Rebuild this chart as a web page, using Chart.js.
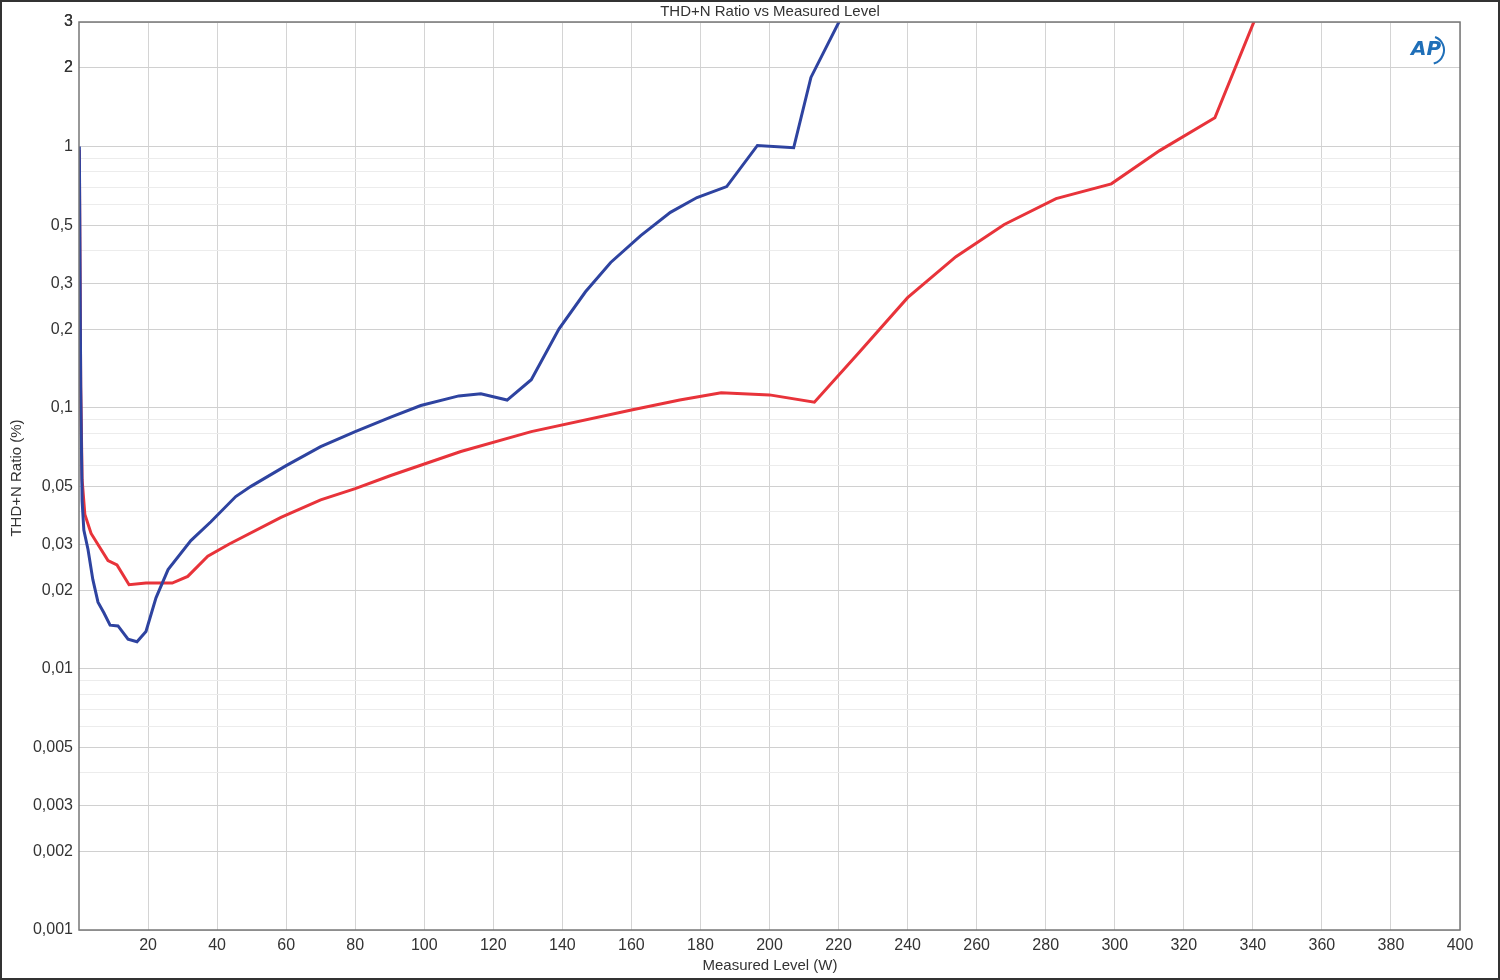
<!DOCTYPE html>
<html><head><meta charset="utf-8">
<script src="https://cdn.jsdelivr.net/npm/chart.js@4"></script>
<style>html,body{margin:0;padding:0;background:#fff}#w{width:1500px;height:980px;position:relative;box-sizing:border-box;border:2px solid #333}</style>
</head><body><div id="w"><canvas id="c"></canvas></div>
<script>
const blueX=[0.1,0.5,0.9,1.4,2.6,4,5.5,7.2,9,11.3,14.2,16.8,19.4,22.3,25.8,32.4,38.2,45.4,49.8,60,70,80,90.3,99,110,116.4,124,131,139,146.7,154,162.7,171.3,179,187.6,196.5,207,212,220.5];
const blueY=[1.0,0.12,0.044,0.034,0.0287,0.022,0.018,0.0164,0.0147,0.0146,0.013,0.0127,0.0139,0.0187,0.024,0.031,0.0366,0.0457,0.05,0.06,0.071,0.081,0.092,0.102,0.111,0.113,0.107,0.128,0.2,0.278,0.36,0.456,0.56,0.638,0.703,1.01,0.99,1.84,3.07];
const redX=[0.1,0.5,0.9,1.7,3.5,8.4,11,14.5,19.4,27,31.5,37.3,43.4,58.5,70,80,90.3,110.6,131,160,174,186,200,213,226,240,254,268,283,299,313,329,340.6];
const redY=[0.97,0.12,0.053,0.039,0.033,0.026,0.025,0.021,0.0213,0.0213,0.0226,0.027,0.030,0.038,0.0444,0.049,0.055,0.068,0.081,0.098,0.107,0.114,0.112,0.105,0.163,0.264,0.379,0.503,0.632,0.72,0.965,1.29,3.07];
const yLabels=[0.001,0.002,0.003,0.005,0.01,0.02,0.03,0.05,0.1,0.2,0.3,0.5,1,2,3];
const xTicks=[20,40,60,80,100,120,140,160,180,200,220,240,260,280,300,320,340,360,380,400];
const pts=(xs,ys)=>xs.map((x,i)=>({x,y:ys[i]}));
const allY=[];for(let d=-3;d<=0;d++){for(let m=1;m<=9;m++){const v=+(m*Math.pow(10,d)).toPrecision(3);allY.push(v);}}allY.push(2,3);
const deco={id:'deco',afterDraw(ch){const c=ch.ctx;c.save();c.fillStyle='#333';c.font='15px "Liberation Sans", Arial';c.textAlign='center';c.textBaseline='middle';
c.fillText('THD+N Ratio vs Measured Level',768,10);c.fillText('Measured Level (W)',768,964);
c.translate(15,476);c.rotate(-Math.PI/2);c.fillText('THD+N Ratio (%)',0,0);c.restore();
c.save();c.fillStyle='#1f6fb8';c.font='italic bold 20px "DejaVu Sans"';c.textAlign='center';c.textBaseline='middle';c.fillText('AP',1424,48);
c.strokeStyle='#1f6fb8';c.lineWidth=2;c.beginPath();c.arc(1428,48,14,-1.2,1.3);c.stroke();c.restore();
const a=ch.chartArea;c.save();c.strokeStyle='#777';c.lineWidth=1.5;c.strokeRect(a.left,a.top,a.right-a.left,a.bottom-a.top);c.restore();}};
new Chart(document.getElementById('c'),{type:'line',
data:{datasets:[{data:pts(blueX,blueY),borderColor:'#2e43a0',borderWidth:3,pointRadius:0,tension:0},
{data:pts(redX,redY),borderColor:'#e8333a',borderWidth:3,pointRadius:0,tension:0}]},
options:{responsive:true,maintainAspectRatio:false,animation:false,devicePixelRatio:1,
layout:{padding:{top:20,right:38,left:0,bottom:0}},
plugins:{legend:{display:false},tooltip:{enabled:false}},
scales:{x:{type:'linear',min:0,max:400,afterBuildTicks(s){s.ticks=xTicks.map(v=>({value:v}));},
afterFit(s){s.height=48;},border:{display:false},grid:{color:'#d4d4d4',drawTicks:false},
ticks:{color:'#333',font:{size:16,family:'"Liberation Sans", Arial'},padding:6,maxRotation:0}},
y:{type:'logarithmic',min:0.001,max:3,afterBuildTicks(s){s.ticks=allY.map(v=>({value:v}));},
afterFit(s){s.width=77;},border:{display:false},
grid:{drawTicks:false,color:ctx=>yLabels.includes(ctx.tick&&ctx.tick.value)?'#d0d0d0':'#ececec'},
ticks:{color:'#333',font:{size:16,family:'"Liberation Sans", Arial'},padding:6,autoSkip:false,
callback:v=>yLabels.includes(v)?String(v).replace('.',','):''}}}},
plugins:[deco]});
</script></body></html>
